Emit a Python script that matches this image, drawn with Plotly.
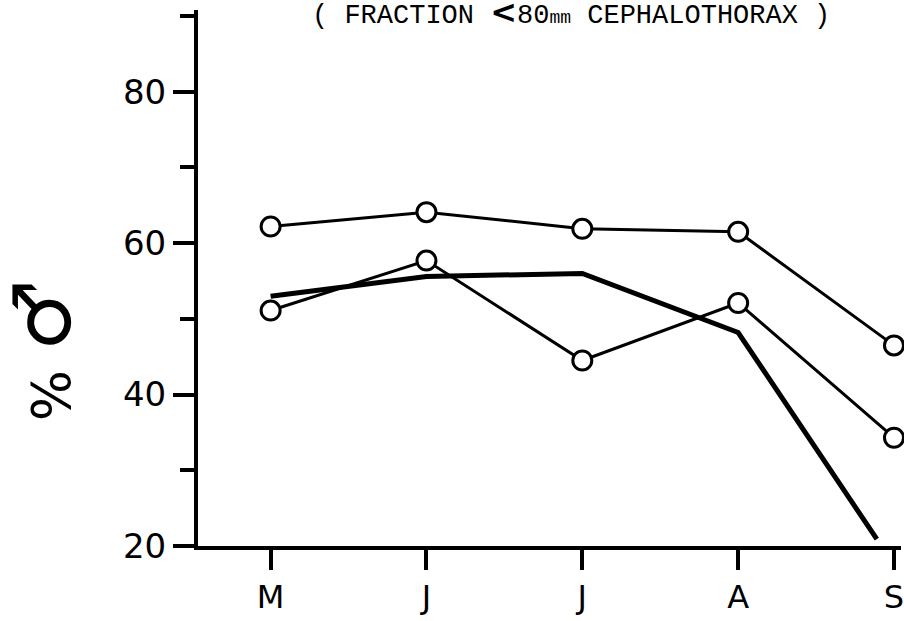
import plotly.graph_objects as go

months = ["M", "J", "J", "A", "S"]
month_pos = [0, 1, 2, 3, 4]

# upper series (open circles)
series_a = [62.2, 64.1, 61.9, 61.5, 46.5]
# lower series (open circles)
series_b = [51.1, 57.7, 44.5, 52.1, 34.3]
# heavy line without markers (last point ends just before September, near the axis)
heavy_x = [0, 1, 2, 3, 3.89]
heavy_y = [53.0, 55.6, 56.0, 48.2, 20.9]

y_ticks = [20, 40, 60, 80]

fig = go.Figure()

fig.add_trace(go.Scatter(
    x=heavy_x, y=heavy_y, mode="lines",
    line=dict(color="black", width=5), showlegend=False, cliponaxis=False))

for ser in (series_a, series_b):
    fig.add_trace(go.Scatter(
        x=month_pos, y=ser, mode="lines+markers",
        line=dict(color="black", width=3),
        marker=dict(symbol="circle", size=19, color="white",
                    line=dict(color="black", width=3)),
        showlegend=False, cliponaxis=False))

fig.update_layout(
    width=904, height=621,
    margin=dict(l=198, r=0, t=10, b=75),
    paper_bgcolor="white", plot_bgcolor="white",
    font=dict(family="DejaVu Sans", color="black"),
    xaxis=dict(
        range=[-0.466, 4.045], tickvals=month_pos, ticktext=months,
        showgrid=False, zeroline=False,
        showline=True, linecolor="black", linewidth=4,
        ticks="outside", ticklen=20, tickwidth=4, tickcolor="black",
        ticklabeloverflow="allow",
        tickfont=dict(size=32, family="DejaVu Sans")),
    yaxis=dict(
        range=[20, 90.8], tickvals=y_ticks,
        showgrid=False, zeroline=False,
        showline=True, linecolor="black", linewidth=4,
        ticks="outside", ticklen=21, tickwidth=4, tickcolor="black",
        ticklabelstandoff=0,
        tickfont=dict(size=34, family="DejaVu Sans"),
        minor=dict(dtick=10, tick0=0, ticks="outside", ticklen=14,
                   tickwidth=4, tickcolor="black", showgrid=False)),
    annotations=[
        dict(text="( FRACTION <span style='font-family:DejaVu Sans;font-size:32px'><b>&lt;</b></span>80<span style='font-size:18px'>mm</span> CEPHALOTHORAX )",
             xref="paper", yref="paper", x=0.53, y=1.0, yshift=-2,
             xanchor="center", yanchor="middle", showarrow=False,
             font=dict(family="Liberation Mono", size=27, color="black")),
        dict(text="<span style='font-size:54px'>%</span> <span style='font-size:80px'>♂</span>",
             textangle=-90,
             xref="paper", yref="paper", x=-0.222, y=0.365,
             xanchor="center", yanchor="middle", showarrow=False,
             font=dict(family="DejaVu Sans", size=60, color="black")),
    ],
)

fig.write_html("out.html", config={"displayModeBar": False},
               post_script="document.body.style.margin='0';document.body.style.overflow='hidden';")
